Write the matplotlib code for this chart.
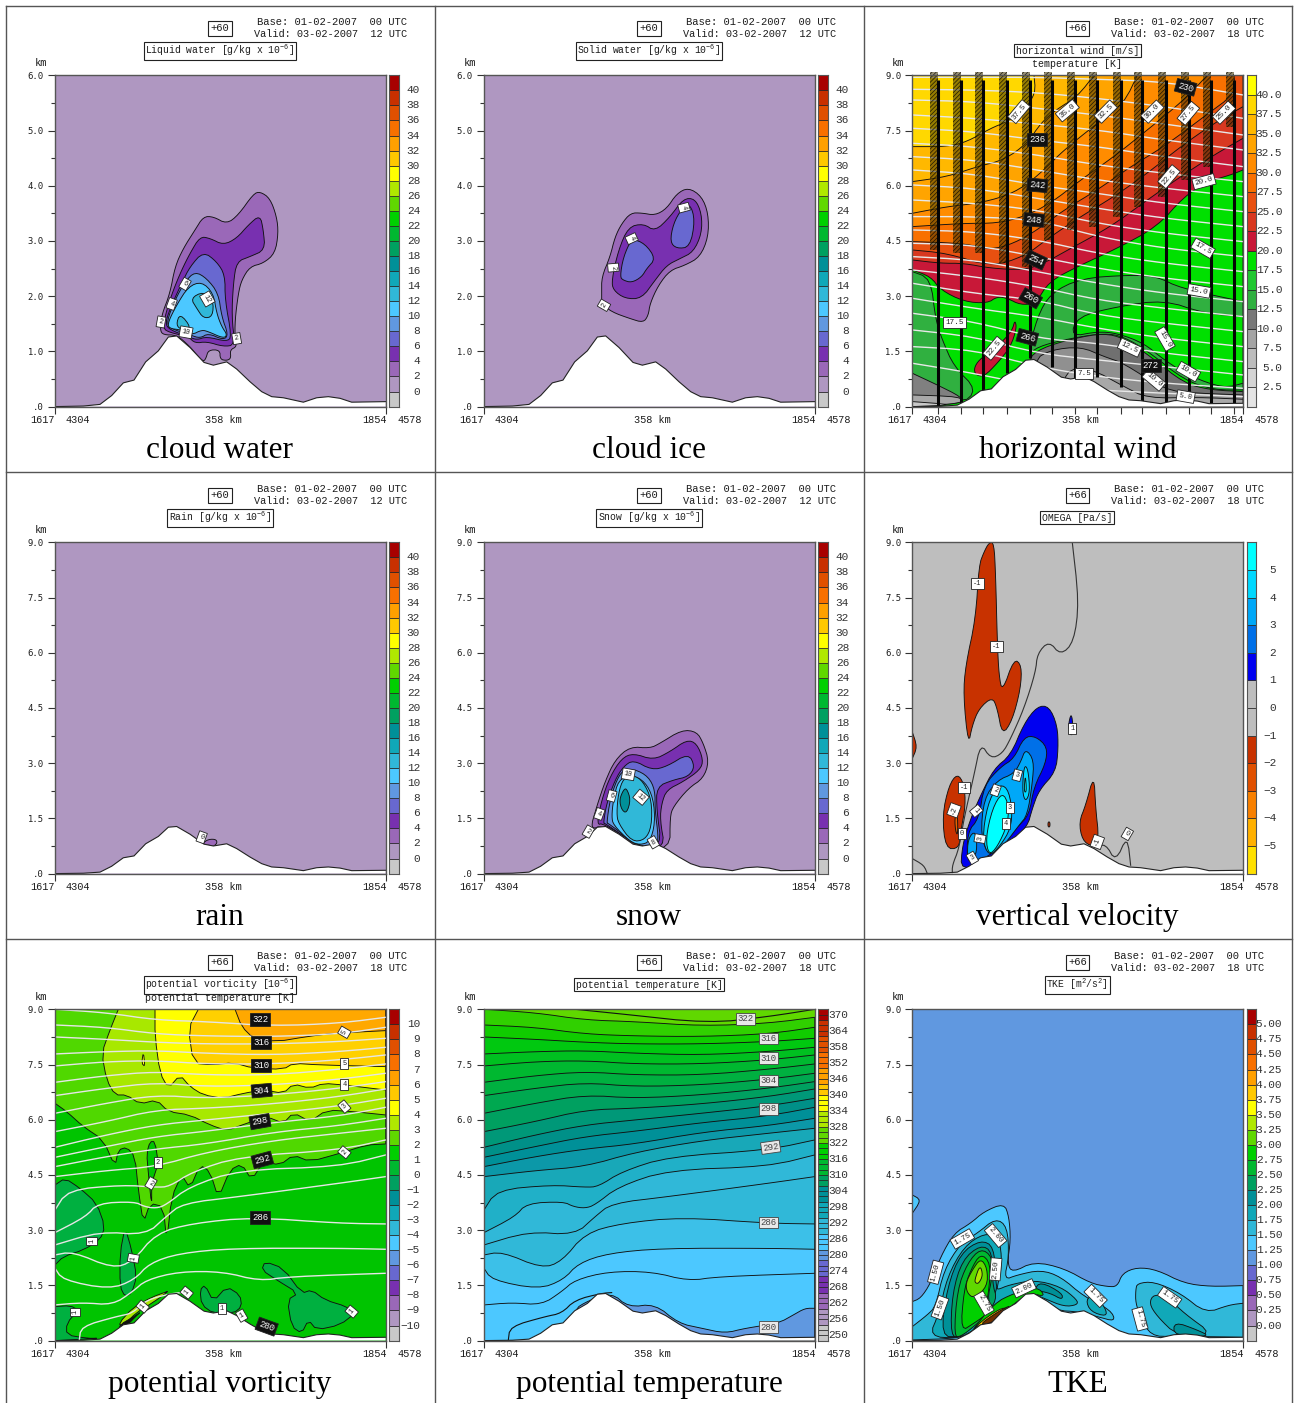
import numpy as np
import matplotlib
matplotlib.use("Agg")
import matplotlib.pyplot as plt

W, H = 1294, 1403
plt.rcParams['hatch.linewidth'] = 0.5
plt.rcParams['mathtext.default'] = 'regular'
MONO = 'Liberation Mono'
SERIF = 'Liberation Serif'
INK = '#1c1c1c'

# palette, lowest class first
C = ['#c8c8c8', '#af97c1', '#9a68b8', '#7830b0', '#6868d0', '#6098e0', '#4cc8ff', '#30b8d8',
     '#10a8b8', '#009098', '#00a060', '#00b830', '#00d000', '#60d800', '#b0e800', '#ffff00',
     '#ffc800', '#ffa000', '#f87000', '#e05000', '#c83000', '#a80000']

# terrain: section position and height in km
terrain_x = [0, 85, 135, 170, 205, 237, 272, 310, 340, 365, 405, 447, 475, 515, 545, 585, 620, 650, 685, 745, 785, 820, 855, 890, 992]
terrain_km = [0, .01, .04, .20, .43, .48, .81, 1.01, 1.26, 1.28, 1.07, .80, .75, .81, .68, .45, .27, .18, .16, .08, .16, .18, .15, .08, .09]

# cloud water
cw_2 = [(315,230),(320,275),(345,340),(360,420),(385,475),(420,530),(445,570),(475,570),(515,548),(550,575),(595,638),(615,645),(645,625),(665,570),(670,520),(660,460),(625,430),(585,420),(560,380),(550,340),(540,260),(540,200),(545,180),(525,170),(528,145),(515,138),(495,142),(495,170),(460,170),(453,145),(445,135),(425,155),(405,180),(365,215),(325,215)]
cw_4 = [(323,235),(335,290),(355,350),(380,410),(405,460),(435,510),(465,505),(505,485),(545,505),(580,545),(615,575),(625,530),(630,470),(585,450),(545,435),(535,370),(530,270),(540,185),(505,180),(455,195),(420,190),(400,210),(345,222)]
cw_6 = [(330,250),(350,305),(380,370),(405,420),(445,465),(485,435),(510,395),(510,320),(530,210),(515,195),(455,210),(425,200),(400,210),(345,230)]
cw_8 = [(335,255),(360,320),(390,375),(420,405),(455,385),(490,340),(500,270),(520,215),(505,200),(460,220),(435,205),(405,215),(345,235)]
cw_10 = [(340,255),(365,305),(400,360),(440,375),(475,340),(485,280),(500,240),(517,215),(505,205),(460,225),(440,230),(410,215),(380,230),(340,235)]
cw_12a = [(407,325),(445,345),(475,320),(473,270),(445,265),(425,295)]
cw_12b = [(363,245),(375,280),(410,235),(380,230)]
cw_labels = [(390,368,'6',-30),(350,308,'4',-20),(318,254,'2',-10),(393,223,'10',-10),(457,323,'12',-60),(545,204,'2',10)]

# cloud ice
ci_2 = [(353,339),(353,389),(378,449),(393,509),(413,549),(440,581),(473,581),(513,574),(548,594),(578,639),(613,657),(653,631),(673,579),(673,509),(648,449),(603,424),(558,409),(523,364),(498,309),(493,274),(478,252),(438,264),(383,284),(353,309)]
ci_4 = [(383,379),(403,469),(433,539),(478,549),(513,526),(558,569),(598,624),(633,624),(653,579),(653,519),(628,464),(588,444),(548,424),(513,379),(473,324),(423,324),(388,349)]
ci_6a = [(408,389),(418,449),(443,504),(483,489),(515,444),(488,414),(473,389),(443,372),(418,379)]
ci_6b = [(558,494),(568,549),(593,594),(618,609),(633,559),(618,479),(578,474)]
ci_labels = [(443,504,'4',-65),(388,417,'2',-85),(360,304,'2',60),(600,597,'4',-75)]

# rain
ra_2 = [(443,91),(460,103),(483,103),(487,91),(470,78),(453,81)]
ra_4 = [(450,86),(470,84),(476,80),(458,78)]
ra_labels = [(440,109,'0',-20)]

# snow
sn_2 = [(318,131),(338,201),(363,276),(393,341),(438,381),(498,376),(528,391),(593,431),(638,426),(658,391),(675,336),(658,286),(613,256),(568,201),(558,171),(558,71),(458,81),(358,146)]
sn_4 = [(338,146),(353,221),(378,291),(413,346),(448,361),(508,341),(558,366),(608,401),(638,391),(658,341),(648,311),(598,276),(548,251),(533,211),(528,161),(543,76),(468,81),(358,151)]
sn_6 = [(358,151),(368,211),(393,281),(418,321),(448,341),(503,311),(548,321),(613,361),(633,321),(613,291),(568,281),(518,261),(518,191),(533,81),(468,79),(363,151)]
sn_8 = [(368,151),(378,221),(398,281),(418,311),(453,313),(493,291),(513,251),(513,191),(523,111),(518,86),(468,79),(373,151)]
sn_10 = [(383,171),(388,221),(403,281),(443,296),(483,276),(508,226),(513,151),(498,96),(468,86),(438,96),(388,146)]
sn_12 = [(398,181),(403,241),(418,286),(448,296),(478,276),(503,221),(503,141),(483,101),(443,96),(403,151)]
sn_14 = [(406,221),(418,251),(428,256),(440,221),(428,181),(413,191)]
sn_labels = [(433,298,'10',-10),(383,233,'6',-15),(346,179,'4',-20),(313,126,'2',-30),(471,229,'12',-40),(508,94,'8',30)]

# temperature isolines on the wind section, one height list per isoline
wt_x = [0, 185, 375, 555, 755, 992]
wt_rows = [[988,988,988,982,975,935],[952,950,942,925,900,865],[920,915,895,875,848,815],[875,865,848,830,800,770],
           [835,825,800,780,750,720],[790,780,755,725,700,675],[750,740,710,680,655,630],[710,698,664,640,610,585],
           [665,655,625,595,565,540],[620,610,590,550,520,495],[570,570,560,510,475,450],[530,525,500,460,430,405],
           [490,485,450,415,385,360],[450,440,405,370,340,315],[410,390,360,320,295,270],[370,340,320,275,250,225],
           [325,295,270,235,205,180],[280,255,205,190,160,135],[230,210,160,140,120,95],[180,170,120,90,70,55],[130,100,60,50,40,30]]
# wind speed classes
w_l1 = [(365,994),(370,940),(335,890),(285,855),(235,835),(165,795),(105,780),(0,780)]
w_l2 = [(545,994),(495,930),(430,890),(385,850),(345,790),(275,740),(195,720),(105,690),(0,675)]
w_l3 = [(675,994),(635,910),(555,850),(455,770),(395,710),(335,660),(275,630),(195,610),(105,600),(0,580)]
w_l4 = [(885,994),(815,920),(705,830),(605,750),(505,680),(415,610),(335,570),(255,550),(155,550),(0,540)]
w_l5 = [(965,994),(970,940),(875,870),(755,780),(655,720),(555,650),(455,590),(375,530),(305,490),(235,470),(155,490),(0,495)]
w_l6 = [(992,900),(905,850),(805,780),(705,700),(605,630),(505,570),(415,510),(335,450),(235,420),(105,460),(0,470)]
w_l7 = [(992,805),(905,755),(805,690),(705,620),(595,540),(485,480),(395,430),(335,410),(235,415),(155,430),(85,430),(0,440)]
w_l8 = [(992,710),(955,695),(885,675),(815,630),(735,540),(615,475),(495,420),(410,375),(370,310),(325,305),(285,325),(255,330),(225,310),(155,315),(85,350),(55,390),(0,410)]
w_blob = [(185,115),(200,140),(235,165),(275,200),(300,230),(308,260),(313,235),(295,180),(255,130),(215,90),(190,95)]
w_mleft = [(0,405),(55,385),(70,260),(90,200),(125,120),(195,50),(145,5),(0,100)]
w_mmid = [(345,150),(375,270),(415,340),(505,385),(655,395),(735,390),(805,355),(992,315),(992,50),(905,50),(815,80),(715,160),(635,210),(575,220),(475,205),(375,180)]
w_bright = [(495,270),(615,300),(755,320),(875,280),(992,270),(992,70),(935,55),(835,90),(755,140),(695,190),(615,220),(555,225),(475,210)]
w_g1 = [(345,140),(385,175),(485,205),(575,220),(635,205),(715,150),(815,70),(895,50),(992,45),(992,0),(345,0)]
w_g2 = [(365,140),(415,170),(505,180),(575,150),(635,130),(755,50),(855,40),(992,35),(992,0),(365,0)]
w_g3 = [(455,110),(535,115),(635,60),(705,25),(855,28),(992,22),(992,0),(455,0)]
w_gl1 = [(0,100),(75,65),(145,30),(155,10),(0,0)]
w_gl2 = [(0,35),(145,30),(155,10),(0,0)]
w_gl3 = [(0,15),(135,5),(0,0)]
barb_x = [77,145,213,283,352,420,488,555,625,690,760,830,895,965]
barb_bottom = [0,0,50,100,145,120,85,90,60,15,15,20,10,10]
barb_hatch_bottom = [470,460,460,430,420,500,530,540,570,600,630,680,720,840]
w_dark_labels = [(820,958,'230',-15),(375,800,'236',0),(375,664,'242',-5),(365,560,'248',-5),(370,440,'254',-25),(355,325,'260',-30),(345,208,'266',-15),(715,122,'272',0)]
w_white_labels = [(320,885,'37.5',50),(465,888,'35.0',40),(580,885,'32.5',45),(720,885,'30.0',45),(828,880,'27.5',50),(935,882,'25.0',45),(770,690,'22.5',50),(875,675,'20.0',15),(872,475,'17.5',-30),(860,347,'15.0',-10),(127,253,'17.5',0),(245,175,'22.5',50),(652,177,'12.5',-25),(758,203,'15.0',-60),(828,105,'10.0',-30),(515,100,'7.5',0),(725,80,'10.0',-40),(820,30,'5.0',-10)]

# omega
om_line0 = [(480,993),(500,815),(485,695),(445,655),(410,698),(375,660),(370,605),(335,495),(295,405),(270,360),(235,345),(205,392),(185,295),(155,165),(140,75),(120,25),(120,2)]
om_line1 = [(0,45),(35,25),(45,0)]
om_line2 = [(545,80),(580,90),(610,35),(645,115),(655,25)]
om_red1 = [(230,993),(245,993),(250,895),(255,695),(260,595),(270,545),(305,645),(328,625),(325,555),(300,460),(270,415),(255,495),(240,530),(200,495),(180,445),(168,385),(153,535),(160,625),(190,765),(200,925),(215,965)]
om_red2 = [(0,425),(15,380),(0,345)]
om_red3 = [(135,300),(155,270),(160,205),(145,125),(140,75),(100,75),(90,175),(110,265)]
om_org3 = [(127,165),(135,195),(137,115),(130,125)]
om_red4 = [(545,298),(550,195),(560,105),(540,80),(510,100),(500,155),(520,205)]
om_red5 = [(407,155),(413,155),(413,140),(407,140)]
om_b0 = [(477,485),(483,435),(477,410),(467,440)]
om_b1 = [(375,502),(410,502),(435,445),(438,375),(430,305),(380,250),(360,195),(345,140),(285,85),(235,50),(145,5),(150,85),(175,165),(205,235),(245,315),(295,355),(335,450)]
om_b2 = [(335,410),(370,412),(405,380),(400,330),(365,260),(350,175),(315,140),(285,100),(235,55),(165,25),(165,125),(200,165),(215,265),(265,320),(305,345)]
om_b3 = [(340,375),(365,340),(360,270),(345,175),(320,145),(275,85),(230,50),(205,115),(215,225),(255,280),(305,300),(325,335)]
om_b3b = [(167,105),(190,130),(195,65),(175,35),(165,45)]
om_b4 = [(335,325),(347,315),(353,245),(340,215),(330,245)]
om_b4b = [(255,265),(285,260),(300,195),(295,135),(265,85),(230,50),(210,105),(225,205)]
om_b5 = [(270,245),(290,205),(285,145),(255,80),(230,55),(220,105),(240,195)]
om_b5b = [(339,300),(343,245),(335,245)]
om_labels = [(195,870,'-1',0),(252,682,'-1',0),(480,435,'1',0),(155,258,'-1',0),(125,190,'-2',70),(148,119,'0',0),(192,188,'1',-50),(203,105,'3',80),(180,47,'3',30),(250,250,'2',-20),(315,295,'3',-15),(292,198,'3',0),(280,151,'4',0),(555,95,'-1',70),(645,119,'0',-30)]

# potential temperature isolines, shared by the last two sections
th_x = [0, 153, 303, 453, 653, 853, 992]
th_rows = [[994,984,962,957,944,952,970],[947,940,920,914,912,920,940],[911,904,895,890,890,897,907],[860,867,870,862,857,867,880],
           [824,837,840,830,830,842,857],[775,795,807,797,797,814,830],[735,757,774,762,767,784,802],[682,712,737,727,737,757,777],
           [627,657,692,697,710,732,755],[580,617,647,662,682,704,727],[550,582,612,628,654,674,700],[522,552,575,590,625,645,667],
           [492,510,522,565,600,622,637]]
th_r14 = [(0,392),(38,452),(203,467),(303,460),(343,462),(413,507),(553,552),(853,572),(992,602)]
th_r15 = [(0,324),(93,372),(128,412),(238,417),(268,402),(303,397),(333,407),(403,462),(553,512),(853,522),(992,557)]
th_r16 = [(0,287),(133,327),(273,317),(333,372),(383,412),(553,432),(853,472),(992,492)]
th_r17 = [(0,257),(53,267),(173,217),(233,237),(303,322),(413,352),(593,370),(853,352),(992,350)]
th_r18 = [(0,217),(23,182),(163,154),(238,182),(283,232),(373,262),(533,277),(853,277),(992,274)]
th_r19 = [(0,107),(83,114),(173,107),(233,147),(273,182),(373,207),(503,207),(613,179),(703,192),(992,202)]
th_r20 = [(73,2),(78,42),(183,72),(233,82),(273,122),(353,142),(383,144)]
th_blue = [(268,92),(313,120),(383,144),(433,100),(513,110),(583,52),(653,37),(723,22),(783,37),(883,52),(928,77),(963,97),(992,97),(992,0),(268,0)]
th_top = [(273,994),(413,980),(673,952),(853,972),(992,994)]
th_band_colors = ['#30d000','#10cc00','#00c810','#00c020','#00b830','#00b040','#00a850','#00a060','#009878','#009088','#009098','#0c98a8','#18a8b8','#20b0c8','#30b8d8','#30b8d8','#3cc0e8','#4cc8ff','#4cc8ff']
th_labels = [(785,965,'322',0),(853,906,'316',0),(853,847,'310',0),(853,780,'304',0),(853,695,'298',0),(860,580,'292',8),(853,354,'286',0),(853,40,'280',0)]

# potential vorticity
pv_2 = [(0,712),(35,687),(85,642),(145,602),(180,522),(190,572),(215,580),(240,552),(250,452),(265,352),(285,412),(325,402),(335,297),(350,432),(380,497),(405,457),(435,527),(465,507),(490,427),(525,512),(560,530),(590,482),(625,537),(675,527),(715,557),(765,537),(855,562),(935,587),(992,590),(992,994),(0,994)]
pv_1a = [(275,562),(285,597),(300,597),(310,532),(290,472),(290,402),(280,502)]
pv_3 = [(190,994),(165,932),(140,862),(155,782),(180,737),(215,737),(255,710),(305,722),(340,687),(405,677),(465,647),(515,630),(575,652),(635,672),(685,652),(715,684),(765,657),(815,692),(895,687),(992,677),(992,994)]
pv_4a = [(260,832),(265,867),(270,822)]
pv_4 = [(300,994),(300,912),(315,802),(340,757),(375,797),(405,762),(445,737),(505,727),(565,742),(625,752),(685,742),(715,770),(765,757),(805,772),(865,767),(992,752),(992,994)]
pv_5 = [(430,994),(400,937),(415,832),(475,827),(535,834),(595,817),(685,814),(715,832),(795,827),(992,822),(992,994)]
pv_6 = [(540,994),(560,942),(595,907),(665,897),(755,912),(835,922),(992,930),(992,994)]
pv_b1 = [(0,467),(30,487),(75,457),(125,412),(150,342),(135,302),(85,272),(25,252),(0,227)]
pv_b2 = [(210,340),(230,272),(245,192),(230,142),(210,132),(195,162),(195,262)]
pv_b3 = [(630,237),(685,217),(740,142),(770,152),(810,122),(875,102),(900,82),(855,47),(785,32),(760,62),(740,22),(710,42),(697,122),(730,142),(665,182),(620,212)]
pv_b4 = [(435,152),(450,167),(475,117),(515,162),(555,137),(560,102),(535,82),(475,82),(440,107)]
pv_b5 = [(0,102),(45,105),(70,92),(35,52),(35,17),(95,7),(135,7),(0,0)]
pv_slope1 = [(190,50),(235,100),(290,130),(330,145),(340,148),(295,115),(245,85),(205,45)]
pv_slope2 = [(190,45),(250,80),(255,85),(205,35)]
pv_dark_labels = [(615,962,'322',0),(618,894,'316',0),(618,824,'310',0),(620,750,'304',5),(615,657,'298',10),(622,542,'292',15),(615,370,'286',0),(635,42,'280',-20)]
pv_white_labels = [(868,925,'5',60),(868,832,'5',0),(868,769,'4',0),(868,702,'3',40),(868,565,'2',50),(308,535,'2',0),(288,472,'2',-30),(110,299,'1',90),(235,247,'1',80),(60,85,'1',90),(263,102,'1',50),(395,144,'1',50),(500,97,'1',0),(560,75,'1',30),(890,87,'1',50)]

# TKE
tk_1 = [(0,117),(25,127),(55,172),(85,252),(125,322),(175,352),(215,387),(275,412),(290,372),(295,302),(285,232),(300,204),(365,237),(455,217),(535,172),(585,162),(615,162),(630,202),(675,220),(735,212),(815,172),(895,162),(992,165),(992,0),(0,0)]
tk_1b = [(0,437),(27,422),(0,382)]
tk_2a = [(0,42),(45,77),(70,102),(95,212),(145,292),(195,322),(250,367),(285,342),(290,252),(275,182),(315,197),(385,212),(445,192),(515,132),(595,92),(610,57),(555,72),(495,87),(435,90),(390,127),(355,137),(295,72),(235,52),(195,32),(145,7),(0,2)]
tk_2b = [(670,152),(675,172),(725,177),(805,142),(880,82),(950,107),(992,112),(992,10),(895,12),(785,12),(715,14),(685,72),(670,112)]
tk_3a = [(50,12),(80,82),(105,192),(155,282),(215,322),(260,312),(270,232),(255,162),(255,152),(290,167),(365,182),(445,162),(495,122),(495,107),(455,102),(395,127),(345,147),(275,97),(185,32),(140,7)]
tk_3b = [(710,112),(725,140),(770,127),(815,82),(905,17),(795,14),(735,72)]
tk_3c = [(520,122),(545,140),(580,97),(583,72),(535,87)]
tk_4a = [(85,12),(105,162),(145,262),(205,302),(245,282),(250,182),(255,152),(225,102),(145,12)]
tk_4b = [(385,177),(450,142),(450,122),(415,142),(365,152)]
tk_4c = [(785,57),(855,32),(895,12),(785,14)]
tk_5 = [(115,12),(120,142),(150,242),(205,287),(240,267),(240,172),(255,122),(215,72),(145,12)]
tk_6 = [(125,12),(135,152),(165,232),(205,277),(240,252),(240,192),(225,122),(245,97),(185,42),(145,12)]
tk_7 = [(145,27),(155,152),(175,212),(205,262),(235,232),(230,152),(220,102),(235,87),(185,52)]
tk_8 = [(160,172),(180,212),(205,247),(225,217),(225,162),(185,127),(165,142)]
tk_9 = [(187,182),(203,227),(212,197),(200,172),(190,172)]
tk_s1 = [(245,112),(305,142),(375,162),(400,132),(355,142),(305,112),(255,62),(205,42),(165,12)]
tk_s2 = [(175,22),(205,57),(265,97),(285,97),(235,52),(200,47)]
tk_s3 = [(200,47),(250,82),(285,102),(295,102),(240,52)]
tk_labels = [(70,205,'1.50',75),(83,99,'1.50',70),(150,305,'1.75',30),(250,315,'2.00',-50),(250,214,'2.50',85),(215,112,'2.75',-60),(335,157,'2.00',25),(550,134,'1.75',-45),(683,65,'1.75',-75),(772,130,'1.75',-35)]

rain_ticks = [str(v) for v in range(0, 42, 2)]
pv_ticks = [str(v).replace('-', '\u2212') for v in range(-10, 11)]
tke_ticks = ['%.2f' % (v * .25) for v in range(21)]
wind_ticks = ['%.1f' % (v * 2.5) for v in range(1, 17)]
omega_ticks = [str(v).replace('-', '\u2212') for v in range(-5, 6)]
theta_ticks = [str(v) for v in range(250, 376, 6)]
wind_colors = ['#e4e4e4','#d4d4d4','#bcbcbc','#a4a4a4','#787878','#30b040','#20c830','#00e000','#c81838','#d83820','#e85010','#f87000','#ff8c00','#ffa400','#ffb800','#ffd800','#ffff00']
omega_colors = ['#ffe000','#ffb000','#f88000','#e05000','#c83200','#bebebe','#bebebe','#0000f0','#0070e8','#00a8f8','#00d8ff','#00ffff']
theta_colors = [C[min(21, i * 22 // 62)] for i in range(62)]

fig = plt.figure(figsize=(W / 100, H / 100), dpi=100, facecolor='white')
def px(x, y):
    return x / W, 1 - y / H
def ftext(x, y, s, **k):
    k.setdefault('family', MONO); k.setdefault('fontsize', 7.6); k.setdefault('color', INK)
    k.setdefault('ha', 'center'); k.setdefault('va', 'center')
    fx, fy = px(x, y)
    return fig.text(fx, fy, s, **k)

# panel rules
for x0, y0, x1, y1 in [(6,6,1292,6),(6,472,1292,472),(6,939,1292,939),(6,6,6,1403),(434.5,6,434.5,1403),(863.5,6,863.5,1403),(1292,6,1292,1403)]:
    a, b = px(x0, y0); c, d = px(x1, y1)
    fig.add_artist(plt.Line2D([a, c], [b, d], color='#555555', lw=1))

PW, PH = 330.7, 331.3
def panel(col, row, zmax, hour, lead, titles, name, cb_colors, cb_labels, cb_first, cb_right=365, soft=2):
    L = [55, 484, 912.3][col]; T = [75.3, 542.3, 1009.3][row]
    ax = fig.add_axes([L / W, 1 - (T + PH) / H, PW / W, PH / H])
    ax.set_xlim(0, 992); ax.set_ylim(0, zmax)
    ax.zmax = zmax; ax.soft = soft
    step = 1.0 if zmax == 6 else 1.5
    maj = np.arange(0, zmax + .01, step)
    ax.set_yticks(maj); ax.set_yticks(maj[:-1] + step / 2, minor=True)
    ax.set_yticklabels(['.0' if v == 0 else '%.1f' % v for v in maj], family='DejaVu Sans Mono', fontsize=6.4, color=INK)
    ax.tick_params(axis='y', which='major', length=5, width=.8, pad=3, color='#333333')
    ax.tick_params(axis='y', which='minor', length=3, width=.8, color='#333333')
    ax.set_xticks([0, 992]); ax.set_xticklabels([])
    ax.tick_params(axis='x', length=5, width=.8, color='#333333')
    for s in ax.spines.values():
        s.set_color('#555555'); s.set_linewidth(1); s.set_zorder(30)
    # header texts
    ftext(L + 165, T - 47, lead, fontsize=7.6, bbox=dict(fc='white', ec='#222222', lw=.8, pad=1.6))
    ftext(L + 352, T - 53.5, 'Base: 01-02-2007  00 UTC', ha='right')
    ftext(L + 352, T - 41.5, 'Valid: 03-02-2007  %s UTC' % hour, ha='right', fontsize=7.4)
    ftext(L + 165, T - 24.5, titles[0], fontsize=7.05, bbox=dict(fc='white', ec='#222222', lw=.8, pad=1.1))
    if len(titles) > 1:
        ftext(L + 165, T - 11.5, titles[1], fontsize=7.2)
    ftext(L - 14, T - 12, 'km', fontsize=7.6)
    for xx, s in [(L - 13, '1617'), (L + 22.5, '4304'), (L + 168, '358 km'), (L + 319, '1854'), (L + 354.5, '4578')]:
        ftext(xx, T + PH + 13, s, fontsize=7.4)
    ftext(L + 165, T + PH + 44, name, family=SERIF, fontsize=22.5, color='black')
    # colour scale
    n = len(cb_colors)
    cb = fig.add_axes([(L + 334.3) / W, 1 - (T + PH) / H, 9.3 / W, PH / H])
    cb.bar(np.zeros(n), np.ones(n), width=1, bottom=np.arange(n), color=cb_colors, edgecolor='#222222', linewidth=.5)
    cb.set_xlim(-.5, .5); cb.set_ylim(0, n); cb.set_xticks([]); cb.set_yticks([])
    for s in cb.spines.values():
        s.set_color('#555555')
    stride = 3 if n == 62 else 1
    for i, s in enumerate(cb_labels):
        cb.annotate(s, xy=(0, cb_first + i * stride), xycoords=('axes fraction', 'data'),
                    xytext=((cb_right - 334.3) * .72, 0), textcoords='offset points',
                    ha='right', va='center', family=MONO, fontsize=8, color='#333333')
    return ax

def soften(pts, closed, n):
    # rounds the corners of a contour, vertices on the frame stay put
    pts = [tuple(map(float, p)) for p in pts]
    for _ in range(n):
        out = []
        m = len(pts)
        for i, p in enumerate(pts):
            edge = p[0] <= 0 or p[0] >= 992 or p[1] <= 0 or p[1] >= 994
            if edge or (not closed and i in (0, m - 1)):
                out.append(p)
                continue
            a = pts[i - 1]; b = pts[(i + 1) % m]
            out.append((.75 * p[0] + .25 * a[0], .75 * p[1] + .25 * a[1]))
            out.append((.75 * p[0] + .25 * b[0], .75 * p[1] + .25 * b[1]))
        pts = out
    return pts

def poly(ax, pts, color, ec='#111111', lw=.65, z=2):
    xs, hs = zip(*soften(pts, True, ax.soft))
    ax.fill(xs, np.array(hs) * ax.zmax / 994, facecolor=color, edgecolor=ec, linewidth=lw, zorder=z)

def below(ax, line, color, z=2):
    # everything below a left/right running isoline
    pts = list(line)
    if pts[0][0] > pts[-1][0]:
        pts = pts[::-1]
    if pts[-1][0] < 992:
        pts = pts + [(992, pts[-1][1])]
    pts = pts + [(992, 0), (pts[0][0], 0)]
    poly(ax, pts, color, z=z)

def curve(ax, xs, hs, color, lw=.8, z=3):
    xs, hs = zip(*soften(list(zip(xs, hs)), False, ax.soft))
    ax.plot(xs, np.array(hs) * ax.zmax / 994, color=color, linewidth=lw, zorder=z, solid_joinstyle='round')

def land(ax):
    ax.fill(terrain_x + [992, 0], terrain_km + [0, 0], facecolor='white', edgecolor='none', zorder=9)
    ax.plot(terrain_x, terrain_km, color='#222222', lw=.8, zorder=10)

def tag(ax, items, dark=False, size=5):
    for x, h, s, r in items:
        ax.text(x, h * ax.zmax / 994, s, rotation=r, ha='center', va='center', family=MONO, fontsize=size,
                color='white' if dark else '#222222', zorder=20, clip_on=True,
                bbox=dict(fc='#111111' if dark else 'white', ec='#222222', lw=.6, pad=1.4))

def base(ax, color):
    ax.set_facecolor(color)

g6 = 'Liquid water [g/kg x 10$^{-6}$]'
# cloud water
ax = panel(0, 0, 6, '12', '+60', [g6], 'cloud water', C, rain_ticks, 1)
base(ax, C[1])
for p, c in [(cw_2, C[2]), (cw_4, C[3]), (cw_6, C[4]), (cw_8, C[5]), (cw_10, C[6]), (cw_12a, C[7]), (cw_12b, C[7])]:
    poly(ax, p, c)
land(ax); tag(ax, cw_labels)

# cloud ice
ax = panel(1, 0, 6, '12', '+60', ['Solid water [g/kg x 10$^{-6}$]'], 'cloud ice', C, rain_ticks, 1)
base(ax, C[1])
for p, c in [(ci_2, C[2]), (ci_4, C[3]), (ci_6a, C[4]), (ci_6b, C[4])]:
    poly(ax, p, c)
land(ax); tag(ax, ci_labels)

# horizontal wind
ax = panel(2, 0, 9, '18', '+66', ['horizontal wind [m/s]', 'temperature [K]'], 'horizontal wind', wind_colors, wind_ticks, 1, cb_right=370)
base(ax, '#ffd800')
for line, c in [(w_l1, '#ffb800'), (w_l2, '#ffa400'), (w_l3, '#ff8c00'), (w_l4, '#f87000'), (w_l5, '#e85010'), (w_l6, '#d83820'), (w_l7, '#c81838'), (w_l8, '#00e000')]:
    below(ax, line, c)
for p, c in [(w_blob, '#c81838'), (w_mleft, '#30b040'), (w_mmid, '#30b040'), (w_bright, '#00e000'), (w_g1, '#707070'), (w_g2, '#909090'), (w_g3, '#a8a8a8'), (w_gl1, '#808080'), (w_gl2, '#a8a8a8'), (w_gl3, '#c8c8c8')]:
    poly(ax, p, c)
for row in wt_rows:
    curve(ax, wt_x, row, '#e8e8e8', lw=1.0, z=4)
for x, b, hb in zip(barb_x, barb_bottom, barb_hatch_bottom):
    ax.fill_betweenx([hb * 9 / 994, 1005 * 9 / 994], x - 24, x, facecolor=(0.25, 0.2, 0, .55), hatch='////////', edgecolor=(0, 0, 0, .8), linewidth=0, zorder=5, clip_on=False)
    ax.plot([x, x], [b * 9 / 994, 980 * 9 / 994], color='#050505', lw=2.2, zorder=6, solid_capstyle='butt')
ax.set_xticks([0, 992] + barb_x); ax.set_xticklabels([])
land(ax); tag(ax, w_white_labels, size=5.5); tag(ax, w_dark_labels, dark=True, size=6.5)

# rain
ax = panel(0, 1, 9, '12', '+60', ['Rain [g/kg x 10$^{-6}$]'], 'rain', C, rain_ticks, 1)
base(ax, C[1])
poly(ax, ra_2, C[2]); poly(ax, ra_4, C[3])
land(ax); tag(ax, ra_labels)

# snow
ax = panel(1, 1, 9, '12', '+60', ['Snow [g/kg x 10$^{-6}$]'], 'snow', C, rain_ticks, 1)
base(ax, C[1])
for p, c in [(sn_2, C[2]), (sn_4, C[3]), (sn_6, C[4]), (sn_8, C[5]), (sn_10, C[6]), (sn_12, C[7]), (sn_14, C[9])]:
    poly(ax, p, c)
land(ax); tag(ax, sn_labels)

# omega
ax = panel(2, 1, 9, '18', '+66', ['OMEGA [Pa/s]'], 'vertical velocity', omega_colors, omega_ticks, 1, cb_right=364)
base(ax, '#bebebe')
for line in (om_line0, om_line1, om_line2):
    xs, hs = zip(*line); curve(ax, xs, hs, '#333333')
for p, c in [(om_red1, '#c83200'), (om_red2, '#c83200'), (om_red3, '#c83200'), (om_org3, '#e86000'), (om_red4, '#c83200'), (om_red5, '#c83200'), (om_b0, '#0000f0'), (om_b1, '#0000f0'), (om_b2, '#0070e8'), (om_b3, '#00a8f8'), (om_b3b, '#00a8f8'), (om_b4, '#00d8ff'), (om_b4b, '#00d8ff'), (om_b5, '#00ffff'), (om_b5b, '#00ffff')]:
    poly(ax, p, c)
land(ax); tag(ax, om_labels, size=5)

# potential vorticity
ax = panel(0, 2, 9, '18', '+66', ['potential vorticity [10$^{-6}$]', 'potential temperature [K]'], 'potential vorticity', C, pv_ticks, 1, soft=1)
base(ax, '#00c400')
for p, c in [(pv_2, '#50d800'), (pv_1a, '#00c400'), (pv_3, '#a8e800'), (pv_4a, '#ffff00'), (pv_4, '#ffff00'), (pv_5, '#ffd000'), (pv_6, '#ffa800'), (pv_b1, '#00b040'), (pv_b2, '#00b040'), (pv_b3, '#00b040'), (pv_b4, '#00b040'), (pv_b5, '#00b040'), (pv_slope1, '#a8e800'), (pv_slope2, '#111111')]:
    poly(ax, p, c)
th_all = [list(zip(th_x, r)) for r in th_rows] + [th_r14, th_r15, th_r16, th_r17, th_r18, th_r19]
ax.soft = 2
for line in th_all + [th_r20]:
    xs, hs = zip(*line); curve(ax, xs, hs, '#e6e6e6', lw=1.0, z=4)
land(ax); tag(ax, pv_white_labels); tag(ax, pv_dark_labels, dark=True, size=6.5)

# potential temperature
ax = panel(1, 2, 9, '18', '+66', ['potential temperature [K]'], 'potential temperature', theta_colors, theta_ticks, 1, cb_right=364)
base(ax, '#60d800')
for line, c in zip(th_all, th_band_colors):
    below(ax, line, c)
xs, hs = zip(*th_r20); curve(ax, xs, hs, '#111111')
poly(ax, th_blue, C[5])
xs, hs = zip(*th_top); curve(ax, xs, hs, '#111111')
land(ax)
for x, h, s, r in th_labels:
    ax.text(x, h * 9 / 994, s, rotation=r, ha='center', va='center', family=MONO, fontsize=6.5, color='#444444', zorder=20,
            bbox=dict(fc='#e8e8e8', ec='#444444', lw=.6, pad=1))

# TKE
ax = panel(2, 2, 9, '18', '+66', ['TKE [m$^{2}$/s$^{2}$]'], 'TKE', C, tke_ticks, 1, cb_right=370)
base(ax, C[5])
for p, c in [(tk_1, C[6]), (tk_1b, C[6]), (tk_2a, C[7]), (tk_2b, C[7]), (tk_3a, C[8]), (tk_3b, C[8]), (tk_3c, C[8]), (tk_4a, C[9]), (tk_4b, C[9]), (tk_4c, C[9]), (tk_5, C[10]), (tk_6, C[11]), (tk_7, C[12]), (tk_8, C[13]), (tk_9, C[14]), (tk_s1, C[12]), (tk_s2, '#ffd000'), (tk_s3, '#703000')]:
    poly(ax, p, c)
land(ax); tag(ax, tk_labels, size=5.5)

fig.savefig('out.png', dpi=100)
